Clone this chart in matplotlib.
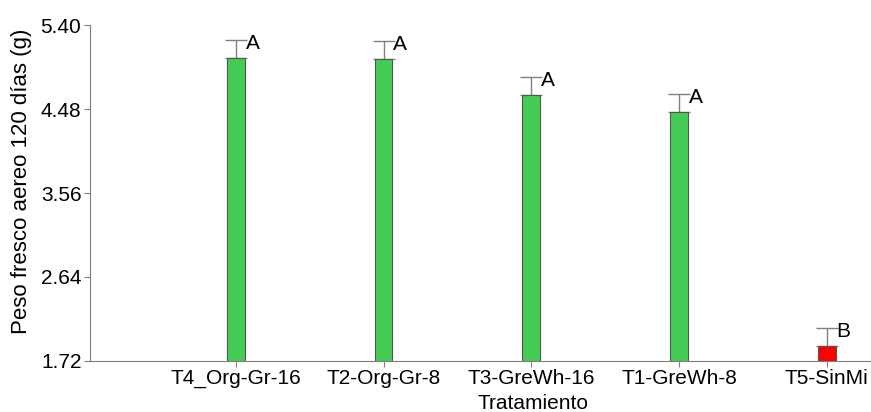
import numpy as np
import matplotlib.pyplot as plt

plt.rcParams["font.family"] = ["Liberation Sans", "DejaVu Sans"]

tratamientos = ["T4_Org-Gr-16", "T2-Org-Gr-8", "T3-GreWh-16", "T1-GreWh-8", "T5-SinMi"]
medias = [5.04, 5.03, 4.63, 4.45, 1.88]
errores = [0.20, 0.20, 0.20, 0.20, 0.20]
letras = ["A", "A", "A", "A", "B"]
colores = ["#44cc55", "#44cc55", "#44cc55", "#44cc55", "#ff0000"]
yticks = [1.72, 2.64, 3.56, 4.48, 5.40]

fig = plt.figure(figsize=(8.71, 4.12), dpi=100)
ax = fig.add_axes([0.103, 0.124, 0.897, 0.815])

x = np.arange(len(tratamientos))
ax.bar(x, medias, width=0.12, color=colores, edgecolor="#555555", linewidth=0.8, zorder=2)
ax.errorbar(x, medias, yerr=[np.zeros(len(x)), errores], fmt="none",
            ecolor="#808080", elinewidth=1, capsize=8, capthick=1, zorder=1)

for xi, m, e, l in zip(x, medias, errores, letras):
    ax.text(xi + 0.065, m + e - 0.04, l, fontsize=15, va="center", ha="left")

ax.set_xlim(-0.99, 4.3)
ax.set_ylim(1.72, 5.40)
ax.set_yticks(yticks)
ax.set_yticklabels([f"{v:.2f}" for v in yticks])
ax.set_xticks(x)
ax.set_xticklabels(tratamientos)
ax.tick_params(labelsize=15, length=4, color="#808080", pad=2)

for s in ["top", "right"]:
    ax.spines[s].set_visible(False)
for s in ["left", "bottom"]:
    ax.spines[s].set_color("#808080")

ax.set_ylabel("Peso fresco aereo 120 días (g)", fontsize=16)
ax.yaxis.set_label_coords(-0.074, 0.535)
ax.set_xlabel("Tratamiento", fontsize=15)
ax.xaxis.set_label_coords(0.567, -0.1)

fig.savefig("out.png", dpi=100)
